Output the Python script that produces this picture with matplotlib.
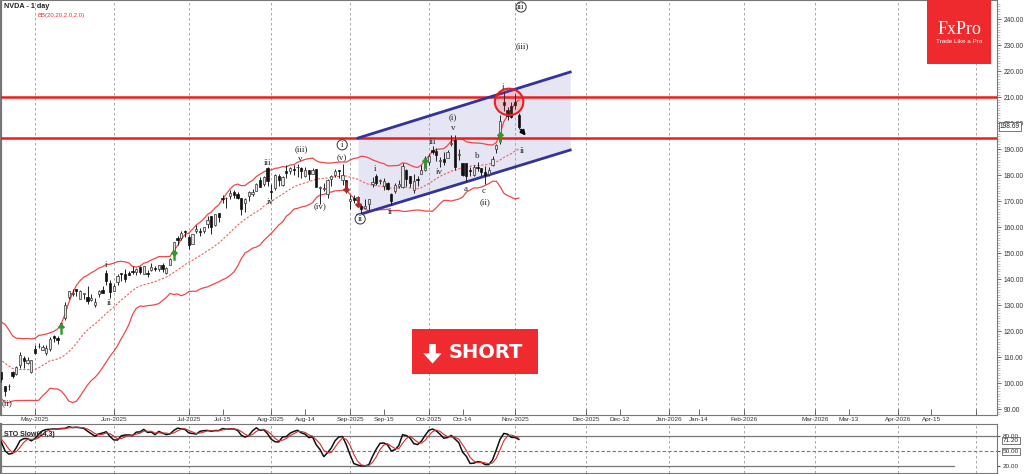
import numpy as np
import pandas as pd
import matplotlib
matplotlib.use("Agg")
import matplotlib.pyplot as plt
from matplotlib.patches import Ellipse, Rectangle, Polygon

plt.rcParams["font.family"] = ["Liberation Sans", "DejaVu Sans"]

# x axis counts trading days (future part too), so keep the US holidays out
holidays = ["2025-04-18", "2025-05-26", "2025-06-19", "2025-07-04", "2025-09-01",
            "2025-11-27", "2025-12-25", "2026-01-01", "2026-01-19", "2026-02-16",
            "2026-04-03"]
first_day = "2025-03-19"   # bars before 16 Apr only warm up BB / stochastic
last_day = "2025-11-04"
anchor = "2025-05-01"      # x = 0

# NVDA daily bars, 19 Mar .. 4 Nov 2025
opens = [117.3, 116.6, 116.8, 119.9, 120.6, 118.7, 111.4, 111.5, 105.1,
         108.5, 107.3, 103.5, 98.9, 87.5, 103.8, 98.9, 109.4, 108.5, 114.1, 111.0,
         104.6, 104.5, 98.8, 98.8, 104.5, 103.5, 106.9, 109.7, 107.7, 104.5,
         113.1, 114.2, 112.9, 111.5, 113.0, 118.3, 117.4, 122.0, 125.0, 133.2, 134.3,
         136.2, 132.4, 134.3, 133.1, 132.2, 130.0, 134.2, 136.0, 142.3, 138.7,
         135.5, 138.8, 142.2, 142.2, 142.5, 143.2, 142.7, 144.6, 142.0, 142.5,
         143.4, 144.5, 144.0, 145.5, 142.5, 145.6, 149.3, 156.0, 156.0, 158.4,
         156.3, 153.7, 158.4, 158.6, 158.6, 161.2, 164.3, 161.0, 165.4, 171.2, 171.1,
         172.0, 173.6, 172.8, 171.3, 169.5, 172.2, 172.6, 174.0, 178.0, 176.5, 182.9,
         174.1, 175.2, 179.6, 176.3, 181.6, 181.6, 182.1, 183.0, 182.6, 179.8, 181.9,
         180.6, 182.4, 175.2, 174.8, 172.6, 178.4, 180.1, 182.0, 178.1, 178.1,
         170.0, 171.1, 170.6, 168.0, 167.6, 169.1, 176.6, 179.7, 177.8, 175.7, 177.0,
         172.6, 174.0, 175.8, 175.3, 182.0, 179.8, 174.5, 178.2, 180.4, 182.1,
         185.2, 189.6, 189.2, 185.5, 186.2, 186.6, 192.2, 193.5, 187.9, 184.8, 184.8,
         182.2, 180.2, 183.1, 182.8, 181.1, 180.4, 183.8, 190.0, 193.1, 208.0, 205.2, 206.5,
         208.1, 203.0]
highs = [120.4, 120.0, 118.0, 122.2, 121.9, 118.8, 114.5, 112.9, 111.0,
         110.2, 112.0, 105.6, 100.1, 101.8, 105.9, 115.1, 110.9, 110.9, 114.3, 113.6,
         106.0, 104.5, 99.0, 99.8, 104.8, 106.5, 111.9, 110.4, 110.2, 108.9,
         114.9, 115.4, 114.7, 114.7, 117.7, 118.7, 118.2, 123.0, 131.2, 135.4, 136.3,
         136.4, 135.9, 134.6, 137.4, 134.3, 132.7, 135.7, 137.3, 143.5, 139.6,
         138.1, 142.0, 142.4, 144.0, 143.3, 145.0, 144.3, 145.0, 145.0, 143.6,
         146.2, 145.2, 145.6, 146.2, 144.8, 148.0, 154.5, 156.7, 158.7, 158.9,
         157.2, 157.3, 161.0, 159.6, 160.2, 164.4, 164.4, 165.1, 165.5, 172.4, 171.8,
         174.2, 174.2, 173.4, 171.4, 171.3, 173.8, 174.7, 177.0, 179.4, 179.9, 183.3,
         176.5, 180.3, 180.3, 179.9, 183.9, 183.3, 183.9, 184.5, 183.0, 183.0, 181.9,
         182.9, 182.5, 175.9, 176.9, 178.6, 180.0, 182.4, 182.0, 184.5, 178.2,
         172.4, 172.4, 171.9, 169.0, 171.0, 171.0, 179.3, 180.3, 178.6, 178.9, 177.5,
         173.2, 177.1, 178.1, 184.6, 182.4, 179.8, 180.3, 179.8, 184.0, 187.4,
         188.1, 191.1, 190.4, 187.2, 189.1, 189.6, 195.3, 195.6, 190.1, 184.8, 184.9,
         183.3, 184.1, 185.2, 182.8, 183.4, 183.0, 187.5, 192.0, 203.2, 212.2, 206.2, 208.0,
         211.3, 204.0]
lows = [115.4, 116.0, 115.4, 119.1, 119.3, 112.7, 110.7, 109.1, 103.7,
        106.5, 106.8, 101.6, 93.4, 86.6, 94.5, 97.5, 99.2, 105.0, 109.1, 110.5,
        100.1, 100.6, 95.0, 97.3, 102.0, 103.1, 105.7, 106.0, 107.4, 104.1,
        111.3, 113.4, 112.7, 110.8, 112.3, 115.8, 115.2, 120.3, 124.5, 132.6, 133.5,
        133.5, 132.4, 132.5, 130.6, 131.6, 129.2, 133.3, 134.8, 137.9, 132.9,
        135.4, 137.9, 139.5, 138.8, 141.5, 141.9, 141.5, 141.9, 141.9, 140.9,
        143.2, 143.1, 143.1, 142.7, 142.0, 145.5, 149.2, 153.0, 155.1, 156.1,
        151.5, 153.6, 157.7, 156.6, 157.9, 159.9, 157.5, 160.5, 162.0, 169.2, 167.5,
        170.8, 171.3, 171.0, 164.6, 166.0, 170.1, 172.0, 174.0, 175.3, 176.0, 175.9,
        170.9, 174.5, 175.9, 175.9, 178.8, 180.4, 180.2, 179.5, 178.8, 179.4, 178.0,
        180.6, 175.5, 168.8, 173.8, 171.2, 175.8, 179.4, 178.8, 176.4, 173.1,
        167.2, 169.2, 169.4, 164.1, 167.4, 166.7, 175.5, 176.2, 176.5, 174.5, 174.4,
        168.4, 173.0, 175.2, 175.2, 175.8, 175.4, 173.1, 175.9, 180.3, 181.5,
        183.9, 188.1, 185.4, 183.3, 184.0, 186.5, 191.1, 182.1, 186.0, 179.7, 177.3,
        179.8, 179.8, 181.7, 179.8, 176.8, 179.8, 183.5, 188.4, 191.9, 204.8, 201.4, 202.1,
        205.6, 197.9]
closes = [117.52, 118.53, 117.70, 121.41, 120.69, 113.76, 111.43, 109.67, 108.38,
          110.15, 110.42, 101.80, 94.31, 97.64, 96.30, 114.33, 107.57, 110.93, 110.71, 112.20,
          104.49, 101.49, 96.91, 98.89, 102.71, 106.43, 111.01, 108.73, 109.02, 108.92,
          111.61, 114.50, 113.82, 113.54, 117.06, 117.37, 116.65, 123.00, 129.93, 135.34, 134.83,
          135.40, 135.57, 134.38, 131.80, 132.83, 131.29, 135.50, 134.81, 139.19, 135.13,
          137.38, 141.22, 141.92, 139.99, 141.72, 142.63, 143.96, 142.83, 145.00, 141.97,
          144.69, 144.12, 145.48, 143.85, 144.17, 147.90, 154.31, 155.02, 157.75, 157.99,
          153.30, 157.25, 159.34, 158.24, 160.00, 162.88, 160.00, 164.92, 164.07, 170.70, 171.37,
          173.00, 172.41, 171.38, 167.03, 170.78, 173.74, 173.50, 176.75, 175.51, 179.27, 177.87,
          173.72, 180.00, 178.26, 179.42, 180.77, 182.70, 182.06, 183.16, 181.59, 182.02, 180.45,
          182.01, 175.64, 175.40, 174.98, 177.99, 179.81, 181.77, 181.60, 180.17, 174.18,
          170.78, 170.62, 171.66, 167.02, 168.31, 170.76, 177.33, 177.17, 177.82, 177.75, 174.88,
          170.29, 176.24, 176.67, 183.61, 178.43, 176.97, 177.69, 178.19, 181.85, 186.58,
          187.24, 188.89, 187.62, 185.54, 185.04, 189.11, 192.57, 183.16, 188.32, 180.03, 179.83,
          181.81, 183.22, 182.64, 181.16, 180.28, 182.16, 186.26, 191.49, 201.03, 207.04, 202.89, 202.49,
          206.88, 198.69]

last_price_text = "198.69"
sto_last_text = "71.20"

# horizontal levels and the rising channel (x in trading days from 1 May)
levels = [210.0, 194.4]
channel_x = [86.1, 142.7]
channel_top = [194.3, 219.7]
channel_bot = [164.7, 189.7]

# signal arrows on the candles
sig_up_dates = ["2025-05-12", "2025-06-25", "2025-09-30", "2025-10-28"]
sig_up_price = [121.0, 149.5, 184.7, 194.6]
sig_dn_dates = ["2025-08-29", "2025-09-04"]
sig_dn_price = [175.6, 169.6]

# Elliott wave counts: text, x, price, circled
wave_text = ["(ii)", "i", "ii", "iii", "iv", "v", "(iii)", "(iv)", "(v)", "i", "ii",
             "i", "ii", "iii", "iv", "v", "(i)", "a", "b", "c", "(ii)", "i", "ii", "(iii)", "iii"]
wave_x = [-7.5, 18.9, 19.7, 61.9, 62.7, 70.7, 70.9, 76.0, 81.9, 81.9, 86.7,
          90.7, 94.7, 105.9, 107.7, 111.5, 111.5, 114.7, 117.9, 119.7, 120.0, 124.8, 129.9, 129.9, 129.6]
wave_y = [92.4, 145.6, 130.9, 184.7, 169.7, 186.3, 190.1, 168.2, 186.7, 191.7, 163.2,
          182.4, 165.9, 192.8, 181.3, 198.2, 202.4, 174.7, 187.4, 174.0, 169.7, 214.0, 189.3, 229.7, 244.7]
wave_circled = [False] * 9 + [True, True] + [False] * 13 + [True]

tick_dates = ["2025-05-01", "2025-06-02", "2025-07-01", "2025-07-15", "2025-08-01", "2025-08-14",
              "2025-09-02", "2025-09-15", "2025-10-01", "2025-10-14", "2025-11-03", "2025-12-01",
              "2025-12-12", "2026-01-02", "2026-01-14", "2026-02-02", "2026-03-02", "2026-03-13",
              "2026-04-01", "2026-04-15", "2026-05-01"]
tick_labels = ["May-2025", "Jun-2025", "Jul-2025", "Jul-15", "Aug-2025", "Aug-14",
               "Sep-2025", "Sep-15", "Oct-2025", "Oct-14", "Nov-2025", "Dec-2025",
               "Dec-12", "Jan-2026", "Jan-14", "Feb-2026", "Mar-2026", "Mar-13",
               "Apr-2026", "Apr-15", ""]
grid_dates = ["2025-05-01", "2025-06-02", "2025-07-01", "2025-08-01", "2025-09-02", "2025-10-01",
              "2025-11-03", "2025-12-01", "2026-01-02", "2026-02-02", "2026-03-02", "2026-04-01",
              "2026-05-01"]


def bar_x(d):
    return np.busday_count(anchor, np.array(d, dtype="datetime64[D]"), holidays=holidays)


dates = pd.bdate_range(first_day, last_day, freq="C", holidays=holidays)
xs = bar_x(dates.values.astype("datetime64[D]")).astype(float)
o, h, l, c = (np.array(v) for v in (opens, highs, lows, closes))

# indicators
cl = pd.Series(c)
bb_mid = cl.rolling(20).mean()
bb_sd = cl.rolling(20).std(ddof=0)
bb_up = bb_mid + 2 * bb_sd
bb_lo = bb_mid - 2 * bb_sd
hh = pd.Series(h).rolling(14).max()
ll = pd.Series(l).rolling(14).min()
fast_k = 100 * (cl - ll) / (hh - ll)
slow_k = fast_k.rolling(3).mean()
slow_d = slow_k.rolling(3).mean()

W, H = 1024, 474
fig = plt.figure(figsize=(W / 100, H / 100), dpi=100)
ax = fig.add_axes([1 / W, 59 / H, 996 / W, 415 / H])
ax2 = fig.add_axes([1 / W, 1 / H, 996 / W, 49 / H])
xlim = (-9.07, 256.5)

# price panel
ax.fill_between(channel_x, channel_bot, channel_top, color="#e5e5f3", lw=0, zorder=0.5)
for gx in grid_dates:
    ax.axvline(bar_x(gx), color="#9a9a9a", lw=0.6, ls=(0, (3, 3)), zorder=1)
    ax2.axvline(bar_x(gx), color="#9a9a9a", lw=0.6, ls=(0, (3, 3)), zorder=1)

ax.plot(xs, bb_up, color="#f04848", lw=0.9, zorder=2)
ax.plot(xs, bb_lo, color="#f04848", lw=0.9, zorder=2)
ax.plot(xs, bb_mid, color="#f06060", lw=0.8, ls=(0, (2, 1.5)), zorder=2)

for lv in levels:
    ax.axhline(lv, color="#f01c1c", lw=1.8, zorder=3)
ax.plot(channel_x, channel_top, color="#33339c", lw=2, zorder=3)
ax.plot(channel_x, channel_bot, color="#33339c", lw=2, zorder=3)

up = c >= o
body_lo = np.minimum(o, c)
body_h = np.maximum(np.abs(c - o), 0.3)
ax.vlines(xs, l, h, color="#222222", lw=0.7, zorder=4)
ax.bar(xs[up], body_h[up], bottom=body_lo[up], width=0.62, color="#e4e4e4",
       edgecolor="#333333", linewidth=0.5, zorder=5)
ax.bar(xs[~up], body_h[~up], bottom=body_lo[~up], width=0.62, color="#111111",
       edgecolor="#111111", linewidth=0.5, zorder=5)

ax.scatter(bar_x(sig_up_dates), sig_up_price, marker=r"$\uparrow$", s=45, color="#2e9a2e", zorder=6)
ax.scatter(bar_x(sig_dn_dates), sig_dn_price, marker=r"$\downarrow$", s=45, color="#b02828", zorder=6)

for s, wx, wy, circ in zip(wave_text, wave_x, wave_y, wave_circled):
    box = dict(boxstyle="circle,pad=0.12", fc="white", ec="#333333", lw=0.7) if circ else None
    ax.text(wx, wy, s, ha="center", va="center", fontsize=6.5, color="#222222",
            family=["Liberation Serif", "DejaVu Serif"], bbox=box, zorder=7)

ax.add_patch(Ellipse((126.4, 208.2), 7.6, 10.2, fc=(1, 0.2, 0.2, 0.18),
                     ec="#e82020", lw=1.5, zorder=6))
ax.annotate("", xy=(131.3, 194.4), xytext=(129.1, 198.4),
            arrowprops=dict(arrowstyle="-|>", color="black", lw=1.4, mutation_scale=7), zorder=7)

ax.set_xlim(xlim)
ax.set_ylim(87.8, 247.4)
ax.yaxis.tick_right()
ax.set_yticks(np.arange(90, 241, 10))
ax.set_yticklabels([f"{v:.2f}" for v in np.arange(90, 241, 10)])
ax.set_yticks(np.arange(88, 247, 1), minor=True)
ax.tick_params(axis="y", which="major", labelsize=4.8, length=3, pad=1.5, color="#555555",
               labelcolor="#333333", width=0.6)
ax.tick_params(axis="y", which="minor", length=2.5, color="#aaaaaa", width=0.5)
ax.set_xticks([bar_x(d) for d in tick_dates])
ax.set_xticklabels(tick_labels)
ax.tick_params(axis="x", direction="in", length=4, labelsize=4.6, pad=1.5, color="#555555",
               labelcolor="#333333", width=0.6)
for sp in ax.spines.values():
    sp.set_color("#777777")
    sp.set_linewidth(0.8)
ax.spines["left"].set_linewidth(1.6)

ax.text(1.003, 198.69, last_price_text, transform=ax.get_yaxis_transform(), fontsize=4.8,
        va="center", ha="left", color="#222222", zorder=10, clip_on=False,
        bbox=dict(boxstyle="square,pad=0.15", fc="white", ec="#444444", lw=0.5))

# stochastic panel
ax2.plot(xs, slow_k, color="#111111", lw=1.1, zorder=3)
ax2.plot(xs, slow_d, color="#d03030", lw=0.8, zorder=3)
ax2.axhline(80, color="#777777", lw=0.9, zorder=2)
ax2.axhline(50, color="#777777", lw=0.8, ls=(0, (3, 2)), zorder=2)
ax2.axhline(20, xmax=0.957, color="#777777", lw=0.9, zorder=2)
ax2.set_xlim(xlim)
ax2.set_ylim(6, 104)
ax2.yaxis.tick_right()
ax2.set_yticks([20, 50, 80])
ax2.set_yticklabels(["20.00", "50.00", "80.00"])
ax2.set_xticks([])
ax2.tick_params(axis="y", labelsize=4.6, length=2.5, pad=1.5, color="#555555", labelcolor="#333333")
for lab in ax2.get_yticklabels():
    if lab.get_text() == "50.00":
        lab.set_bbox(dict(boxstyle="square,pad=0.12", fc="white", ec="#444444", lw=0.5))
for sp in ax2.spines.values():
    sp.set_color("#777777")
    sp.set_linewidth(0.8)
ax2.spines["left"].set_linewidth(1.6)
ax2.text(1.006, 71.2, sto_last_text, transform=ax2.get_yaxis_transform(), fontsize=4.6,
         va="center", ha="left", color="#222222", zorder=10, clip_on=False,
         bbox=dict(boxstyle="square,pad=0.12", fc="white", ec="#444444", lw=0.5))
ax2.text(0.003, 0.78, "STO Slow(14,3)", transform=ax2.transAxes, fontsize=5, weight="bold",
         va="center", ha="left", color="#222222", zorder=4)

# header
fig.text(4 / W, 1 - 6.5 / H, "NVDA - 1 day", fontsize=5.2, weight="bold", va="center", color="#222222")
fig.text(37 / W, 1 - 15.5 / H, "BB(20,20,2.0,2.0)", fontsize=4.3, va="center", color="#e83030")

# FxPro logo
fig.patches.append(Rectangle((927 / W, 1 - 64 / H), 64 / W, 64 / H, transform=fig.transFigure,
                             fc="#ee2a2e", ec="none", zorder=20))
fig.text(959 / W, 1 - 29 / H, "FxPro", fontsize=13, color="white", ha="center", va="center",
         family=["Liberation Serif", "DejaVu Serif"], zorder=21)
fig.text(959 / W, 1 - 41.5 / H, "Trade Like a Pro", fontsize=4.6, color="white",
         ha="center", va="center", zorder=21)

# SHORT button
fig.patches.append(Rectangle((412 / W, 1 - 374 / H), 126 / W, 45 / H, transform=fig.transFigure,
                             fc="#ef2b2f", ec="none", zorder=20))
arrow_px = [(429.2, 344), (435.8, 344), (435.8, 353.3), (441.7, 353.3), (432.5, 363.5),
            (423.3, 353.3), (429.2, 353.3)]
fig.patches.append(Polygon([(px / W, 1 - py / H) for px, py in arrow_px], closed=True,
                           transform=fig.transFigure, fc="white", ec="none", zorder=21))
fig.text(486 / W, 1 - 352 / H, "SHORT", fontsize=14, weight="bold", color="white",
         ha="center", va="center", family=["DejaVu Sans"], zorder=21)

fig.savefig("out.png", dpi=100)
